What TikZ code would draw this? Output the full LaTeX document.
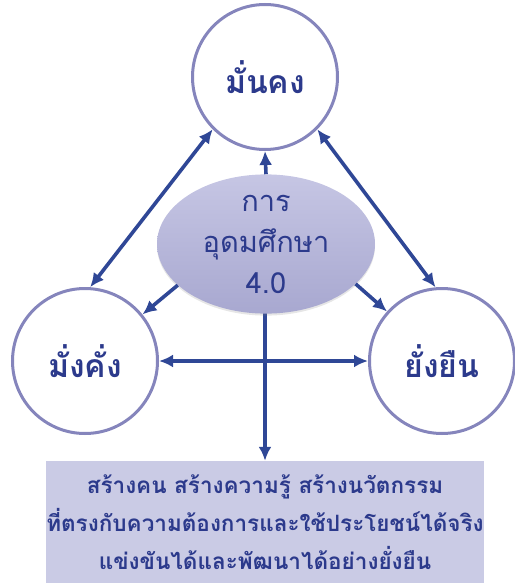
\documentclass[tikz,border=0pt]{standalone}
\usepackage{fontspec}
\newfontfamily\thaifont[Script=Thai]{Loma}
\usetikzlibrary{shapes.geometric,arrows.meta,shadows}
\definecolor{ringc}{HTML}{8585BC}
\definecolor{txtc}{HTML}{2C3A8C}
\definecolor{arrc}{HTML}{2F4796}
\definecolor{elltop}{HTML}{C6C6E4}
\definecolor{ellbot}{HTML}{A8A8D0}
\definecolor{boxc}{HTML}{CACBE5}
\tikzset{
  ring/.style={circle, draw=ringc, line width=3pt, fill=white, minimum size=145pt, inner sep=0pt,
    font=\thaifont\bfseries\fontsize{32}{36}\selectfont, text=txtc},
  hub/.style={ellipse, top color=elltop, bottom color=ellbot, draw=none, minimum width=218pt, minimum height=138pt,
    inner sep=0pt, align=center, font=\thaifont\fontsize{29}{41}\selectfont, text=txtc,
    drop shadow={opacity=0.2, shadow xshift=0pt, shadow yshift=-2pt}},
  goal/.style={rectangle, fill=boxc, minimum width=414pt, minimum height=122pt, inner sep=0pt, align=center,
    font=\thaifont\bfseries\fontsize{22.5}{38}\selectfont, text=txtc},
  tip/.style={Latex[length=14pt,width=13pt]},
  link/.style={draw=arrc, line width=3.6pt, -{Latex[length=14pt,width=13pt]}},
  dlink/.style={draw=arrc, line width=3.6pt, {Latex[length=14pt,width=13pt]}-{Latex[length=14pt,width=13pt]}}
}
\begin{document}
\begin{tikzpicture}[x=1pt,y=-1pt]
\useasboundingbox (0,0) rectangle (514,583);
\node[ring] (top) at (265,77) {มั่นคง};
\node[ring] (left) at (85,361) {มั่งคั่ง};
\node[ring] (right) at (442,361) {ยั่งยืน};
\node[goal] (box) at (265,522) {สร้างคน สร้างความรู้ สร้างนวัตกรรม\\ที่ตรงกับความต้องการและใช้ประโยชน์ได้จริง\\แข่งขันได้และพัฒนาได้อย่างยั่งยืน};
\draw[dlink] (top.225) -- (left.86);
\draw[dlink] (top.315) -- (right.95);
\draw[dlink] (left.east) -- (right.west);
\draw[link] (265,300) -- (box.north);
\node[hub] (hub) at (266,244) {การ\\อุดมศึกษา\\4.0};
\draw[link] (hub.north) -- (top.south);
\draw[link] (hub.205) -- (left.39);
\draw[link] (hub.336) -- (right.138);
\end{tikzpicture}
\end{document}
